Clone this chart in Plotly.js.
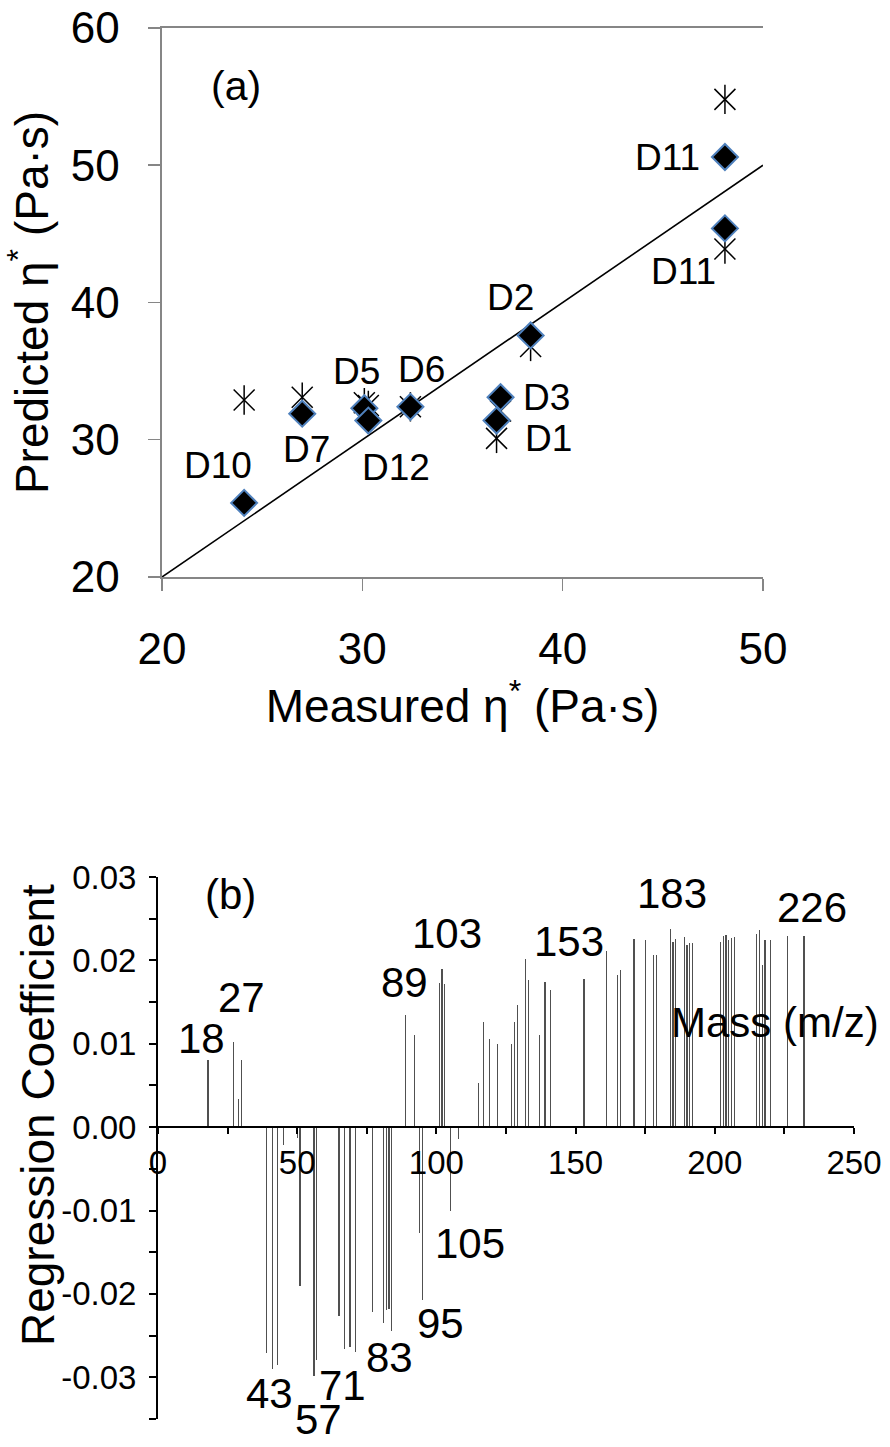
<!DOCTYPE html>
<html>
<head>
<meta charset="utf-8">
<script src="https://cdn.plot.ly/plotly-3.0.1.min.js"></script>
<style>html,body{margin:0;padding:0;background:#fff;}#chart{width:890px;height:1447px;}</style>
</head>
<body>
<div id="chart"></div>
<script>
// ---------- Panel (a) data ----------
const samples = ['D1','D2','D3','D5','D6','D7','D10','D11','D11','D12'];
const measured = [36.7, 38.4, 36.9, 30.1, 32.4, 27.0, 24.1, 48.1, 48.1, 30.3];
const predDiamond = [31.4, 37.6, 33.1, 32.3, 32.4, 31.9, 25.4, 50.6, 45.4, 31.4];
const predStar = [30.1, 36.8, 32.1, 32.7, 32.4, 33.1, 32.9, 54.8, 43.9, 32.5];
const identityX = [20, 50];
const identityY = [20, 50];
const aXTicks = [20, 30, 40, 50];
const aYTicks = [20, 30, 40, 50, 60];

// ---------- Panel (b) data ----------
const masses = [18,27,29,30,39,41,43,45,50,51,56,57,65,67,69,71,77,81,82,83,84,89,92,94,95,
  101,102,103,105,108,115,117,119,122,127,128,129,132,133,137,139,141,153,161,165,166,171,175,
  178,179,184,185,186,189,190,191,192,202,203,204,205,206,207,215,216,217,218,220,226,232];
const coefs = [0.0080,0.0102,0.0034,0.0080,-0.0271,-0.0290,-0.0285,-0.0021,-0.0013,-0.0191,-0.0299,-0.0279,
  -0.0227,-0.0266,-0.0264,-0.0270,-0.0222,-0.0235,-0.0219,-0.0218,-0.0244,0.0134,0.0110,-0.0127,-0.0207,
  0.0173,0.0190,0.0172,-0.0101,-0.0014,0.0053,0.0126,0.0106,0.0100,0.0100,0.0126,0.0146,0.0202,0.0176,
  0.0110,0.0174,0.0164,0.0178,0.0211,0.0182,0.0189,0.0226,0.0225,0.0207,0.0207,0.0238,0.0222,0.0226,
  0.0228,0.0218,0.0221,0.0221,0.0222,0.0229,0.0230,0.0225,0.0227,0.0228,0.0232,0.0236,0.0194,0.0225,
  0.0225,0.0229,0.0229];
const bXTickVals = [0,50,100,150,200,250];
const bXTickText = ['0','50','100','150','200','250'];
const bYTickVals = [-0.03,-0.02,-0.01,0,0.01,0.02,0.03];
const bYTickText = ['-0.03','-0.02','-0.01','0.00','0.01','0.02','0.03'];
const peakLabels = ['18','27','89','103','153','183','226','105','95','83','71','43','57'];
const peakLabelX = [15.8, 30.1, 88.7, 103.7, 147.6, 184.5, 234.9, 112.0, 101.3, 83.3, 66.4, 40.2, 57.5];
const peakLabelY = [0.0106, 0.0155, 0.0174, 0.0232, 0.0223, 0.0280, 0.0264, -0.0139, -0.0235, -0.0276, -0.0310, -0.0320, -0.0320];
const peakLabelAnchor = ['middle','middle','middle','middle','middle','middle','middle','middle','middle','middle','middle','middle','top'];

// sample label placement (layout only)
const sampleLabelText = ['(a)','D11','D11','D2','D5','D6','D3','D1','D7','D12','D10'];
const sampleLabelX = [23.68, 45.21, 46.02, 37.39, 29.70, 32.93, 39.19, 39.27, 27.23, 31.66, 22.79];
const sampleLabelY = [55.75, 50.56, 42.23, 40.37, 34.99, 35.12, 33.05, 30.08, 29.28, 27.96, 28.09];

const FONT = '"Liberation Sans", Arial, sans-serif';
const gray = '#868686';

const traces = [
  {type:'scatter', mode:'lines', x:identityX, y:identityY, xaxis:'x', yaxis:'y',
   line:{color:'#000', width:1.6}, hoverinfo:'skip'},
  {type:'scatter', mode:'markers', x:measured, y:predStar, text:samples, xaxis:'x', yaxis:'y',
   marker:{symbol:'x-thin-open', size:21, color:'#000', line:{color:'#000', width:1.5}}},
  {type:'scatter', mode:'markers', x:measured, y:predStar, text:samples, xaxis:'x', yaxis:'y',
   marker:{symbol:'line-ns-open', size:21, color:'#000', line:{color:'#000', width:1.5}}},
  {type:'scatter', mode:'markers', x:measured, y:predDiamond, text:samples, xaxis:'x', yaxis:'y',
   marker:{symbol:'diamond', size:20, color:'#000', line:{color:'#4f81bd', width:2}}},
  {type:'bar', x:masses, y:coefs, xaxis:'x2', yaxis:'y2', width:0.45,
   marker:{color:'#505050', line:{width:0}}}
];

const annotations = [];
sampleLabelText.forEach((t,i)=>annotations.push({xref:'x', yref:'y', x:sampleLabelX[i], y:sampleLabelY[i],
  xanchor:'center', yanchor:'middle',
  text:t, showarrow:false, font:{size: i===0?41:37, family:FONT, color:'#000'}}));
peakLabels.forEach((t,i)=>annotations.push({xref:'x2', yref:'y2', x:peakLabelX[i], y:peakLabelY[i],
  xanchor:'center', yanchor:peakLabelAnchor[i],
  text:t, showarrow:false, font:{size:42, family:FONT, color:'#000'}}));
annotations.push({xref:'x2', yref:'y2', x:25.9, y:0.0279, xanchor:'center', yanchor:'middle',
  text:'(b)', showarrow:false, font:{size:42, family:FONT, color:'#000'}});
annotations.push({xref:'paper', yref:'paper', x:0.8708, y:0.2937, xanchor:'center', yanchor:'middle',
  text:'Mass (m/z)', showarrow:false, font:{size:42, family:FONT, color:'#000'}});
annotations.push({xref:'paper', yref:'paper', x:0.0427, y:0.2294, xanchor:'center', yanchor:'middle',
  text:'Regression Coefficient', textangle:-90, showarrow:false, font:{size:46, family:FONT, color:'#000'}});

const layout = {
  width:890, height:1447, margin:{l:0, r:0, t:0, b:0}, showlegend:false,
  paper_bgcolor:'#fff', plot_bgcolor:'#fff',
  font:{family:FONT, color:'#000'},
  bargap:0,
  xaxis:{domain:[0.18202,0.85730], range:[20,50], anchor:'y', tickvals:aXTicks,
    ticks:'outside', ticklen:12, tickwidth:1.5, tickcolor:gray, showline:true, linecolor:gray, linewidth:1.5,
    mirror:true, showgrid:false, zeroline:false, tickfont:{size:44}, ticklabelstandoff:21,
    title:{text:'Measured η<sup>*</sup> (Pa·s)', font:{size:46}, standoff:12}},
  yaxis:{domain:[0.60124,0.98065], range:[20,60], anchor:'x', tickvals:aYTicks,
    ticks:'outside', ticklen:12, tickwidth:1.5, tickcolor:gray, showline:true, linecolor:gray, linewidth:1.5,
    showgrid:false, zeroline:false, tickfont:{size:44}, ticklabelstandoff:20,
    title:{text:'Predicted η<sup>*</sup> (Pa·s)', font:{size:46}, standoff:12}},
  yaxis3:{overlaying:'y', side:'right', anchor:'x', range:[20,60], showline:true, linecolor:'#000', linewidth:2,
    showticklabels:false, ticks:'', showgrid:false, zeroline:false},
  xaxis2:{domain:[0.17753,0.95955], range:[0,250], anchor:'free', position:0.22094,
    tickvals:bXTickVals, ticktext:bXTickText, ticks:'outside', ticklen:6, tickwidth:2, tickcolor:'#000',
    minor:{dtick:25, tick0:0, ticks:'outside', ticklen:6, tickwidth:2, tickcolor:'#000', showgrid:false},
    showline:true, linecolor:'#000', linewidth:2, showgrid:false, zeroline:false, tickfont:{size:33}, ticklabelstandoff:0},
  yaxis2:{domain:[0.01935,0.39392], range:[-0.035,0.03], anchor:'x2',
    tickvals:bYTickVals, ticktext:bYTickText, ticks:'outside', ticklen:7, tickwidth:2, tickcolor:'#000',
    minor:{dtick:0.005, tick0:0, ticks:'outside', ticklen:7, tickwidth:2, tickcolor:'#000', showgrid:false},
    showline:true, linecolor:'#000', linewidth:2, showgrid:false, zeroline:false, tickfont:{size:33}, ticklabelstandoff:6},
  annotations:annotations
};

Plotly.newPlot('chart', traces, layout, {staticPlot:true, displayModeBar:false});
</script>
</body>
</html>
